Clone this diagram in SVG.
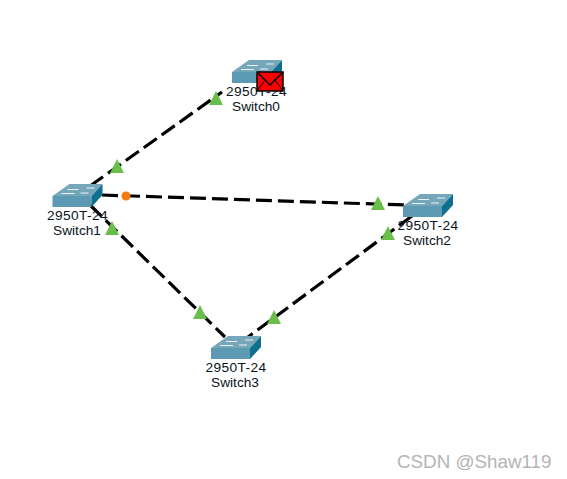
<svg xmlns="http://www.w3.org/2000/svg" width="567" height="479" viewBox="0 0 567 479">
<style>
.lbl{font-family:"Liberation Sans",Arial,sans-serif;font-size:13.7px;fill:#0a1420;text-anchor:middle}
.num{letter-spacing:.4px}
.wm{font-family:"Liberation Sans",Arial,sans-serif;font-size:18.8px;fill:#b4b4b4}
.link{stroke:#000;stroke-width:3.2;stroke-dasharray:16 6;fill:none}
.tri{fill:#6abf4b}
</style>
<defs>
<g id="sw">
<polygon points="0,12 17,0 50,0 39,12" fill="#76a6ba"/>
<polygon points="0,12 39,12 39,23 0,23" fill="#5b9ab2"/>
<polygon points="39,12 50,0 50,11 39,23" fill="#0f6f8e"/>
<path d="M15,5.5H26M34,4H42M9,9.5H22M28,9H36" stroke="#e8f2f6" stroke-width="1" fill="none"/>
</g>
<polygon id="tr" points="0,-8 7,6 -7,6" class="tri"/>
</defs>
<rect width="567" height="479" fill="#fff"/>
<g id="connectors">
<line class="link" x1="90" y1="186" x2="222" y2="92"/>
<line class="link" x1="102" y1="195" x2="405" y2="205"/>
<line class="link" x1="90" y1="205" x2="225" y2="337"/>
<line class="link" x1="412" y1="216" x2="248" y2="337"/>
<use href="#tr" x="117" y="167"/>
<use href="#tr" x="216" y="99"/>
<use href="#tr" x="112" y="229"/>
<use href="#tr" x="200" y="313"/>
<use href="#tr" x="378" y="204"/>
<use href="#tr" x="388" y="234"/>
<use href="#tr" x="274" y="318"/>
<circle cx="126" cy="196" r="4.5" fill="#f57c14"/>
</g>
<g id="switch0">
<use href="#sw" x="232" y="60"/>
<text class="lbl num" x="256.5" y="96">2950T-24</text>
<text class="lbl" x="256" y="111">Switch0</text>
</g>
<g id="switch1">
<use href="#sw" x="52.5" y="184"/>
<text class="lbl num" x="77.5" y="220">2950T-24</text>
<text class="lbl" x="77" y="235">Switch1</text>
</g>
<g id="switch2">
<use href="#sw" x="403" y="194"/>
<text class="lbl num" x="428" y="230">2950T-24</text>
<text class="lbl" x="427" y="245">Switch2</text>
</g>
<g id="switch3">
<use href="#sw" x="211" y="336"/>
<text class="lbl num" x="236" y="372">2950T-24</text>
<text class="lbl" x="235" y="387">Switch3</text>
</g>
<g id="envelope">
<rect x="257" y="72" width="26" height="19" fill="#f00" stroke="#000" stroke-width="1.5"/>
<path d="M257,72L270,85L283,72" fill="none" stroke="#000" stroke-width="1.5"/>
<path d="M257,91L265,80M283,91L275,80" fill="none" stroke="#000" stroke-width="1"/>
</g>
<text class="wm" x="397" y="468">CSDN @Shaw119</text>
</svg>
